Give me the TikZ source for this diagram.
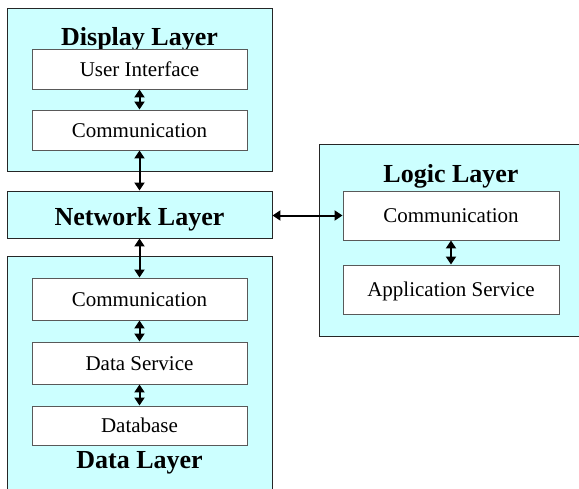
\documentclass[tikz,border=0pt]{standalone}
\usepackage{fontspec}
\setmainfont{Liberation Serif}
\usetikzlibrary{arrows.meta}
\definecolor{layerfill}{HTML}{CCFFFF}
\begin{document}
\begin{tikzpicture}[x=1pt,y=-1pt,
  layer/.style={draw=black!85,line width=0.9pt,fill=layerfill,inner sep=0pt,minimum width=265pt},
  unit/.style={draw=black!65,line width=0.9pt,fill=white,inner sep=0pt,minimum width=215pt,
    text height=14pt,text depth=0pt,font=\fontsize{21}{24}\selectfont},
  ttl/.style={inner sep=0pt,anchor=base,font=\fontsize{26}{30}\selectfont\bfseries},
  arr/.style={{Triangle[length=8pt,width=10pt]}-{Triangle[length=8pt,width=10pt]},line width=2pt}]
\useasboundingbox (0,0) rectangle (579,488);
% Display layer
\node[layer,minimum height=163pt] (disp) at (139.5,89.5) {};
\node[ttl] (dispT) at (139.5,45) {Display Layer};
\node[unit,minimum height=40pt] (ui) at (139.5,69) {User Interface};
\node[unit,minimum height=40pt] (dcomm) at (139.5,130) {Communication};
% Network layer
\node[layer,minimum height=47pt] (net) at (139.5,214.5) {};
\node[ttl] (netT) at (139.5,225) {Network Layer};
% Data layer
\node[layer,minimum height=244pt] (data) at (139.5,378) {};
\node[unit,minimum height=42pt] (dacomm) at (139.5,299) {Communication};
\node[unit,minimum height=42pt] (dserv) at (139.5,363) {Data Service};
\node[unit,minimum height=39pt] (db) at (139.5,425.5) {Database};
\node[ttl] (dataT) at (139.5,468) {Data Layer};
% Logic layer
\node[layer,minimum width=276pt,minimum height=192pt] (logic) at (457,240) {};
\node[ttl] (logT) at (451,182) {Logic Layer};
\node[unit,minimum width=216pt,minimum height=49pt] (lcomm) at (451,215.5) {Communication};
\node[unit,minimum width=216pt,minimum height=49pt] (app) at (451,289.5) {Application Service};
% Connectors
\draw[arr] (ui.south) -- (dcomm.north);
\draw[arr] (dcomm.south) -- (net.north);
\draw[arr] (net.south) -- (dacomm.north);
\draw[arr] (dacomm.south) -- (dserv.north);
\draw[arr] (dserv.south) -- (db.north);
\draw[arr] (net.east |- lcomm.west) -- (lcomm.west);
\draw[arr] (lcomm.south) -- (app.north);
\end{tikzpicture}
\end{document}
